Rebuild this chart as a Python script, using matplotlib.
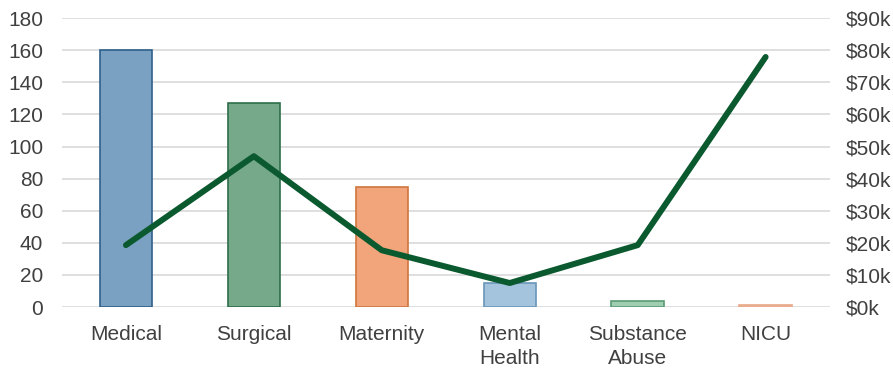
import matplotlib
matplotlib.use("Agg")
import matplotlib.pyplot as plt
from matplotlib.ticker import FuncFormatter

plt.rcParams['font.family'] = ['Liberation Sans', 'DejaVu Sans']

categories = ["Medical", "Surgical", "Maternity", "Mental\nHealth", "Substance\nAbuse", "NICU"]
counts = [160, 127, 75, 15, 4, 1.5]
costs_k = [19.3, 47, 17.7, 7.5, 19.3, 77.9]

fills = ["#7aa1c1", "#76a98a", "#f2a57a", "#a3c4dc", "#9fcdb0", "#f7c9b0"]
edges = ["#2f5f8a", "#2e6e4a", "#d0763e", "#6a96b8", "#5a9a75", "#e8a888"]
text_color = "#404040"

fig = plt.figure(figsize=(8.93, 3.70), dpi=100)
ax = fig.add_axes([0.0694, 0.170, 0.8596, 0.781])
x = list(range(len(categories)))

ax.bar(x, counts, width=0.41, color=fills, edgecolor=edges, linewidth=1.2, zorder=2)
ax.set_xlim(-0.5, len(categories) - 0.5)
ax.set_ylim(0, 180)
ax.set_yticks(range(0, 181, 20))
ax.grid(axis='y', color='#d9d9d9', linewidth=1.2, zorder=0)
ax.set_axisbelow(True)
ax.set_xticks(x)
ax.set_xticklabels(categories, linespacing=1.35)
ax.tick_params(axis='x', length=0, pad=13, labelsize=15, labelcolor=text_color)
ax.tick_params(axis='y', length=0, pad=13.5, labelsize=15, labelcolor=text_color)
for s in ax.spines.values():
    s.set_visible(False)

ax2 = ax.twinx()
ax2.plot(x, costs_k, color="#0b5a2f", linewidth=4.3, solid_capstyle='round', zorder=3)
ax2.set_ylim(0, 90)
ax2.set_yticks(range(0, 91, 10))
ax2.yaxis.set_major_formatter(FuncFormatter(lambda v, p: "${:.0f}k".format(v)))
ax2.tick_params(axis='y', length=0, pad=12, labelsize=15, labelcolor=text_color)
for s in ax2.spines.values():
    s.set_visible(False)

fig.savefig("out.png", dpi=100)
